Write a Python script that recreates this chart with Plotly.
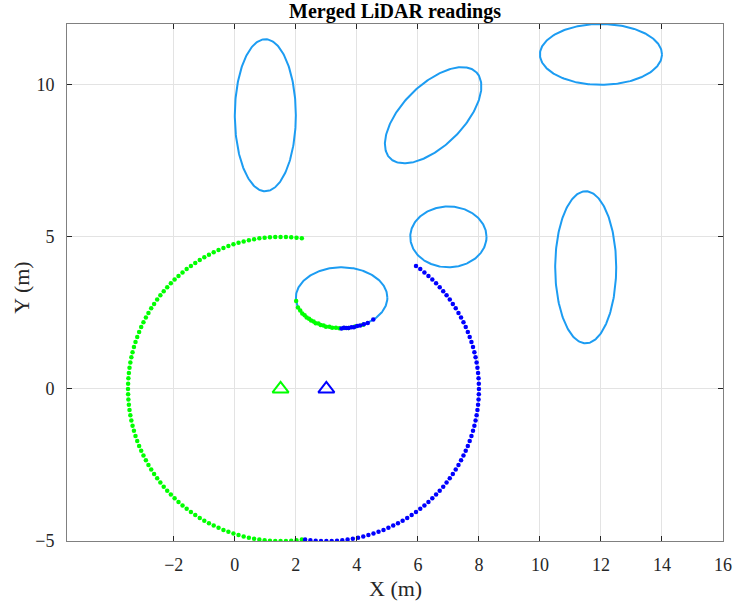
import numpy as np
import plotly.graph_objects as go

# ---- obstacles (ellipses): centre, semi-axes, rotation (deg) ----
ell_cx = [1.0, 6.5, 12.0, 7.0, 3.5, 11.5]
ell_cy = [9.0, 9.0, 11.0, 5.0, 3.0, 4.0]
ell_a = [1.0, 2.0, 2.0, 1.25, 1.5, 1.0]
ell_b = [2.5, 1.0, 1.0, 1.0, 1.0, 2.5]
ell_rot = [0, 45, 0, 0, 0, 0]

# ---- sensor positions ----
sensor_x = [1.5, 3.0]
sensor_y = [0.0, 0.0]

# ---- green LiDAR scan (beam angle deg, range m) ----
green_deg = [38, 40, 42, 44, 46, 48, 50, 52, 54, 56, 58, 60, 62, 64, 66, 68, 70, 72, 74, 76, 78, 80,
             82, 84, 86, 88, 90, 92, 94, 96, 98, 100, 102, 104, 106, 108, 110, 112, 114, 116, 118, 120,
             122, 124, 126, 128, 130, 132, 134, 136, 138, 140, 142, 144, 146, 148, 150, 152, 154, 156,
             158, 160, 162, 164, 166, 168, 170, 172, 174, 176, 178, 180, 182, 184, 186, 188, 190, 192,
             194, 196, 198, 200, 202, 204, 206, 208, 210, 212, 214, 216, 218, 220, 222, 224, 226, 228,
             230, 232, 234, 236, 238, 240, 242, 244, 246, 248, 250, 252, 254, 256, 258, 260, 262, 264,
             266, 268, 270, 272, 274, 276, 278]
green_rng = [3.43, 3.19, 2.99, 2.89, 2.77, 2.71, 2.63, 2.60, 2.53, 2.52, 2.48, 2.48, 2.45, 2.47, 2.46,
             2.49, 2.50, 2.55, 2.58, 2.66, 2.74, 2.94,
             5.0, 5.0, 5.0, 5.0, 5.0, 5.0, 5.0, 5.0, 5.0, 5.0, 5.0, 5.0, 5.0, 5.0, 5.0, 5.0, 5.0, 5.0,
             5.0, 5.0, 5.0, 5.0, 5.0, 5.0, 5.0, 5.0, 5.0, 5.0, 5.0, 5.0, 5.0, 5.0, 5.0, 5.0, 5.0, 5.0,
             5.0, 5.0, 5.0, 5.0, 5.0, 5.0, 5.0, 5.0, 5.0, 5.0, 5.0, 5.0, 5.0, 5.0, 5.0, 5.0, 5.0, 5.0,
             5.0, 5.0, 5.0, 5.0, 5.0, 5.0, 5.0, 5.0, 5.0, 5.0, 5.0, 5.0, 5.0, 5.0, 5.0, 5.0, 5.0, 5.0,
             5.0, 5.0, 5.0, 5.0, 5.0, 5.0, 5.0, 5.0, 5.0, 5.0, 5.0, 5.0, 5.0, 5.0, 5.0, 5.0, 5.0, 5.0,
             5.0, 5.0, 5.0, 5.0, 5.0, 5.0, 5.0, 5.0, 5.0]

# ---- blue LiDAR scan (beam angle deg, range m) ----
blue_deg = [-98, -96, -94, -92, -90, -88, -86, -84, -82, -80, -78, -76, -74, -72, -70, -68, -66, -64,
            -62, -60, -58, -56, -54, -52, -50, -48, -46, -44, -42, -40, -38, -36, -34, -32, -30, -28,
            -26, -24, -22, -20, -18, -16, -14, -12, -10, -8, -6, -4, -2, 0, 2, 4, 6, 8, 10, 12, 14,
            16, 18, 20, 22, 24, 26, 28, 30, 32, 34, 36, 38, 40, 42, 44, 46, 48, 50, 52, 54,
            56, 58, 60, 62, 64, 66, 68, 70, 72, 74, 76]
blue_rng = [5.0, 5.0, 5.0, 5.0, 5.0, 5.0, 5.0, 5.0, 5.0, 5.0, 5.0, 5.0, 5.0, 5.0, 5.0, 5.0, 5.0, 5.0,
            5.0, 5.0, 5.0, 5.0, 5.0, 5.0, 5.0, 5.0, 5.0, 5.0, 5.0, 5.0, 5.0, 5.0, 5.0, 5.0, 5.0, 5.0,
            5.0, 5.0, 5.0, 5.0, 5.0, 5.0, 5.0, 5.0, 5.0, 5.0, 5.0, 5.0, 5.0, 5.0, 5.0, 5.0, 5.0, 5.0,
            5.0, 5.0, 5.0, 5.0, 5.0, 5.0, 5.0, 5.0, 5.0, 5.0, 5.0, 5.0, 5.0, 5.0, 5.0, 5.0, 5.0, 5.0,
            5.0, 5.0, 5.0, 5.0, 5.0,
            2.75, 2.56, 2.46, 2.36, 2.30, 2.22, 2.19, 2.13, 2.11, 2.09, 2.05]

x_ticks = [-2, 0, 2, 4, 6, 8, 10, 12, 14, 16]
y_ticks = [-5, 0, 5, 10]

ELL_COLOR = "#1c9cf2"
FONT = "Liberation Serif, Times New Roman, serif"

fig = go.Figure()

t = np.linspace(0, 2 * np.pi, 241)
for cx, cy, a, b, r in zip(ell_cx, ell_cy, ell_a, ell_b, ell_rot):
    th = np.deg2rad(r)
    ex = cx + a * np.cos(t) * np.cos(th) - b * np.sin(t) * np.sin(th)
    ey = cy + a * np.cos(t) * np.sin(th) + b * np.sin(t) * np.cos(th)
    fig.add_trace(go.Scatter(x=ex, y=ey, mode="lines", line=dict(color=ELL_COLOR, width=2),
                             hoverinfo="skip", showlegend=False))

def scan_xy(sx, sy, deg, rng):
    d = np.deg2rad(np.array(deg, dtype=float))
    r = np.array(rng, dtype=float)
    return sx + r * np.cos(d), sy + r * np.sin(d)

gx, gy = scan_xy(sensor_x[0], sensor_y[0], green_deg, green_rng)
bx, by = scan_xy(sensor_x[1], sensor_y[1], blue_deg, blue_rng)

fig.add_trace(go.Scatter(x=gx, y=gy, mode="markers", marker=dict(color="#00ff00", size=4.5),
                         showlegend=False))
fig.add_trace(go.Scatter(x=bx, y=by, mode="markers", marker=dict(color="#0000ff", size=4.5),
                         showlegend=False))

fig.add_trace(go.Scatter(x=[sensor_x[0]], y=[sensor_y[0]], mode="markers",
                         marker=dict(symbol="triangle-up-open", size=14, color="#00ff00",
                                     line=dict(width=2, color="#00ff00")), showlegend=False))
fig.add_trace(go.Scatter(x=[sensor_x[1]], y=[sensor_y[1]], mode="markers",
                         marker=dict(symbol="triangle-up-open", size=14, color="#0000ff",
                                     line=dict(width=2, color="#0000ff")), showlegend=False))

axis_common = dict(showline=True, mirror="ticks", linecolor="#808080", linewidth=1,
                   ticks="inside", ticklen=5, tickcolor="#262626", tickwidth=1,
                   showgrid=True, gridcolor="#e3e3e3", gridwidth=1, zeroline=False,
                   automargin=False,
                   tickfont=dict(family=FONT, size=18, color="#262626"))

fig.update_layout(
    width=734, height=608,
    margin=dict(l=67, r=11, t=24, b=67),
    paper_bgcolor="white", plot_bgcolor="white",
    title=dict(text="<b>Merged LiDAR readings</b>", x=395 / 734, xanchor="center",
               y=1 - 11 / 608, yanchor="middle", yref="container",
               font=dict(family=FONT, size=20, color="black")),
    xaxis=dict(range=[-5.5, 16], tickvals=x_ticks, ticklabelstandoff=7, **axis_common),
    yaxis=dict(range=[-5, 12], tickvals=y_ticks, ticklabelstandoff=8, **axis_common),
    annotations=[
        dict(text="X (m)", x=0.5, y=-0.091, xref="paper", yref="paper", showarrow=False,
             xanchor="center", yanchor="middle", font=dict(family=FONT, size=22, color="#262626")),
        dict(text="Y (m)", x=-0.0686, y=0.49, xref="paper", yref="paper", showarrow=False,
             textangle=-90, xanchor="center", yanchor="middle",
             font=dict(family=FONT, size=22, color="#262626")),
    ],
)

fig.write_html("out.html")
